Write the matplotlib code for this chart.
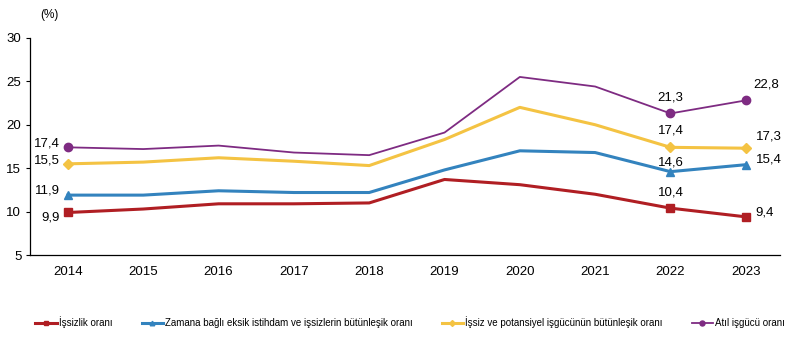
import matplotlib.pyplot as plt

plt.rcParams["font.family"] = ["Liberation Sans", "DejaVu Sans"]

years = [2014, 2015, 2016, 2017, 2018, 2019, 2020, 2021, 2022, 2023]

issizlik = [9.9, 10.3, 10.9, 10.9, 11.0, 13.7, 13.1, 12.0, 10.4, 9.4]
zamana_bagli = [11.9, 11.9, 12.4, 12.2, 12.2, 14.8, 17.0, 16.8, 14.6, 15.4]
potansiyel = [15.5, 15.7, 16.2, 15.8, 15.3, 18.3, 22.0, 20.0, 17.4, 17.3]
atil = [17.4, 17.2, 17.6, 16.8, 16.5, 19.1, 25.5, 24.4, 21.3, 22.8]

labels = [
    "İşsizlik oranı",
    "Zamana bağlı eksik istihdam ve işsizlerin bütünleşik oranı",
    "İşsiz ve potansiyel işgücünün bütünleşik oranı",
    "Atıl işgücü oranı",
]

series = [issizlik, zamana_bagli, potansiyel, atil]
colors = ["#B01E23", "#3383BE", "#F4C343", "#7E2B82"]
markers = ["s", "^", "D", "o"]
marker_sizes = [5.5, 5.5, 5, 6]
widths = [2.2, 2.2, 2.2, 1.3]

# points that carry a marker and a value label
marked = [0, 8, 9]

# label offsets in pixels: (first year, 2022, 2023)
offsets = [
    [(-8, -5), (0, 16), (10, 4)],
    [(-8, 5), (0, 9), (10, 5)],
    [(-8, 3), (0, 17), (10, 12)],
    [(-8, 4), (0, 16), (8, 16)],
]


def fmt(v):
    return f"{v:.1f}".replace(".", ",")


fig = plt.figure(figsize=(7.98, 3.41), dpi=100)
ax = fig.add_axes([0.038, 0.252, 0.939, 0.637])

handles = []
for vals, c, m, ms, lw, lab, offs in zip(series, colors, markers, marker_sizes,
                                          widths, labels, offsets):
    line, = ax.plot(
        years, vals,
        color=c,
        linewidth=lw,
        marker=m,
        markersize=ms,
        markevery=marked,
        label=lab,
        zorder=3,
    )
    handles.append(line)

    for idx, (dx, dy), ha in zip(marked, offs, ["right", "center", "left"]):
        ax.annotate(
            fmt(vals[idx]), (years[idx], vals[idx]),
            xytext=(dx, dy), textcoords="offset pixels",
            ha=ha, va="center", fontsize=9.5,
        )

ax.set_xlim(2013.5, 2023.45)
ax.set_ylim(5, 30)
ax.set_yticks([5, 10, 15, 20, 25, 30])
ax.set_xticks(years)
ax.tick_params(axis="y", labelsize=9.5, length=3, width=0.8)
ax.tick_params(axis="x", labelsize=9.5, length=0, pad=8)

for s in ["top", "right"]:
    ax.spines[s].set_visible(False)
for s in ["left", "bottom"]:
    ax.spines[s].set_color("black")
    ax.spines[s].set_linewidth(0.9)

fig.text(0.05, 0.955, "(%)", fontsize=8.5, ha="left", va="center")

fig.legend(
    handles=handles,
    loc="center",
    bbox_to_anchor=(0.514, 0.055),
    ncol=4,
    frameon=False,
    fontsize=7,
    handlelength=2.2,
    handletextpad=0.2,
    columnspacing=3.0,
    markerscale=0.6,
)

fig.savefig("out.png", dpi=100, facecolor="white")
